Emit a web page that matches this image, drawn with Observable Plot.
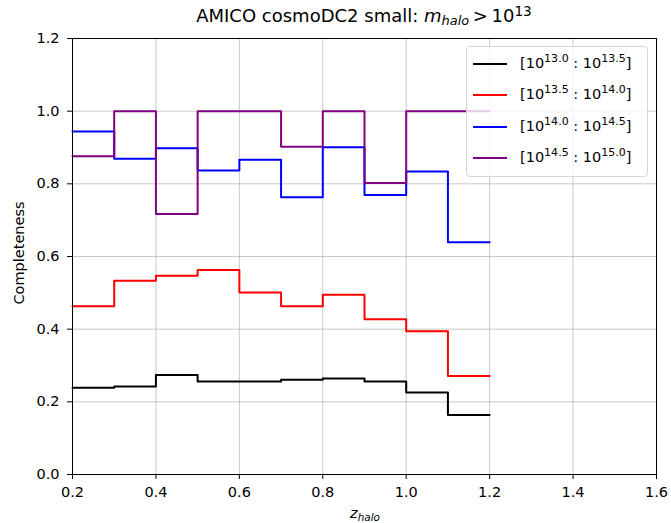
<!DOCTYPE html>
<html><head><meta charset="utf-8">
<script src="https://cdn.jsdelivr.net/npm/d3@7"></script>
<script src="https://cdn.jsdelivr.net/npm/@observablehq/plot@0.6"></script>
<style>
body{margin:0;background:#fff;font-family:"DejaVu Sans",sans-serif;}
#wrap{position:relative;width:671px;height:523px;overflow:hidden;}
#wrap svg{position:absolute;left:0;top:0;}
.ov{position:absolute;color:#000;white-space:nowrap;line-height:1.15;}
#title{left:72px;width:584px;top:6px;text-align:center;font-size:18px;}
#ylab{left:19px;top:253px;font-size:14.5px;transform:translate(-50%,-50%) rotate(-90deg);}
#xlab{left:365px;top:505px;font-size:14.5px;transform:translateX(-50%);}
#legend{left:466px;top:46px;width:182px;height:131px;background:rgba(255,255,255,0.8);border:1px solid #d6d6d6;border-radius:4px;box-sizing:border-box;}
.row{position:absolute;left:0;width:180px;height:20px;font-size:14.5px;}
.row .sw{position:absolute;left:6px;top:9px;width:34px;height:2px;}
.row .tx{position:absolute;left:53px;top:1px;}
sup{font-size:76%;vertical-align:6px;line-height:0;}
sub{font-size:72%;vertical-align:-3px;line-height:0;}
</style></head><body><div id="wrap"></div>
<script>
// bin edges in z_halo
const binEdges = [0.2, 0.3, 0.4, 0.5, 0.6, 0.7, 0.8, 0.9, 1.0, 1.1, 1.2];
// completeness per mass bin
const compM130 = [0.239, 0.242, 0.274, 0.256, 0.256, 0.261, 0.264, 0.256, 0.226, 0.164];
const compM135 = [0.463, 0.533, 0.547, 0.563, 0.501, 0.463, 0.495, 0.427, 0.394, 0.271];
const compM140 = [0.944, 0.869, 0.898, 0.837, 0.866, 0.763, 0.901, 0.769, 0.834, 0.639];
const compM145 = [0.876, 1.0, 0.717, 1.0, 1.0, 0.902, 1.0, 0.802, 1.0, 1.0];
const seriesColors = ["black", "red", "blue", "purple"];
const legendLo = ["13.0", "13.5", "14.0", "14.5"];
const legendHi = ["13.5", "14.0", "14.5", "15.0"];
const xTicks = [0.2, 0.4, 0.6, 0.8, 1.0, 1.2, 1.4, 1.6];
const yTicks = [0, 0.2, 0.4, 0.6, 0.8, 1.0, 1.2];

const allSeries = [compM130, compM135, compM140, compM145];
const stepRows = vals => binEdges.map((x, i) => ({x, y: vals[Math.min(i, vals.length - 1)]}));

const fmt = d3.format(".1f");
const chart = Plot.plot({
  width: 671, height: 523,
  marginLeft: 72, marginRight: 15, marginTop: 38, marginBottom: 49,
  style: {fontFamily: "DejaVu Sans, sans-serif", fontSize: "14.5px", color: "black", background: "white"},
  x: {domain: [0.2, 1.6], ticks: xTicks, tickFormat: fmt, label: null},
  y: {domain: [0, 1.2], ticks: yTicks, tickFormat: fmt, label: null},
  marks: [
    Plot.gridX(xTicks, {stroke: "#b0b0b0", strokeOpacity: 0.7, strokeWidth: 1}),
    Plot.gridY(yTicks, {stroke: "#b0b0b0", strokeOpacity: 0.7, strokeWidth: 1}),
    ...allSeries.map((vals, k) => Plot.line(stepRows(vals), {x: "x", y: "y", curve: "step-after", stroke: seriesColors[k], strokeWidth: 2})),
    Plot.axisX({ticks: xTicks, tickFormat: fmt, tickSize: 5, tickPadding: 7, fontSize: 14.5, label: null}),
    Plot.axisY({ticks: yTicks, tickFormat: fmt, tickSize: 5, tickPadding: 8, fontSize: 14.5, label: null}),
    Plot.frame({stroke: "black", strokeWidth: 1})
  ]
});
const wrap = document.getElementById("wrap");
wrap.appendChild(chart);

function addDiv(id, html) {
  const d = document.createElement("div");
  d.className = "ov"; d.id = id; d.innerHTML = html; wrap.appendChild(d); return d;
}
addDiv("title", 'AMICO cosmoDC2 small: <i>m</i><sub><i>halo</i></sub>&#8201;&gt;&#8201;10<sup>13</sup>');
addDiv("ylab", "Completeness");
addDiv("xlab", '<i>z</i><sub><i>halo</i></sub>');
const leg = addDiv("legend", "");
legendLo.forEach((lo, k) => {
  const r = document.createElement("div");
  r.className = "row";
  r.style.top = (7 + k * 31.3) + "px";
  r.innerHTML = `<div class="sw" style="background:${seriesColors[k]}"></div><div class="tx">[10<sup>${lo}</sup> : 10<sup>${legendHi[k]}</sup>]</div>`;
  leg.appendChild(r);
});
</script>
</body></html>
